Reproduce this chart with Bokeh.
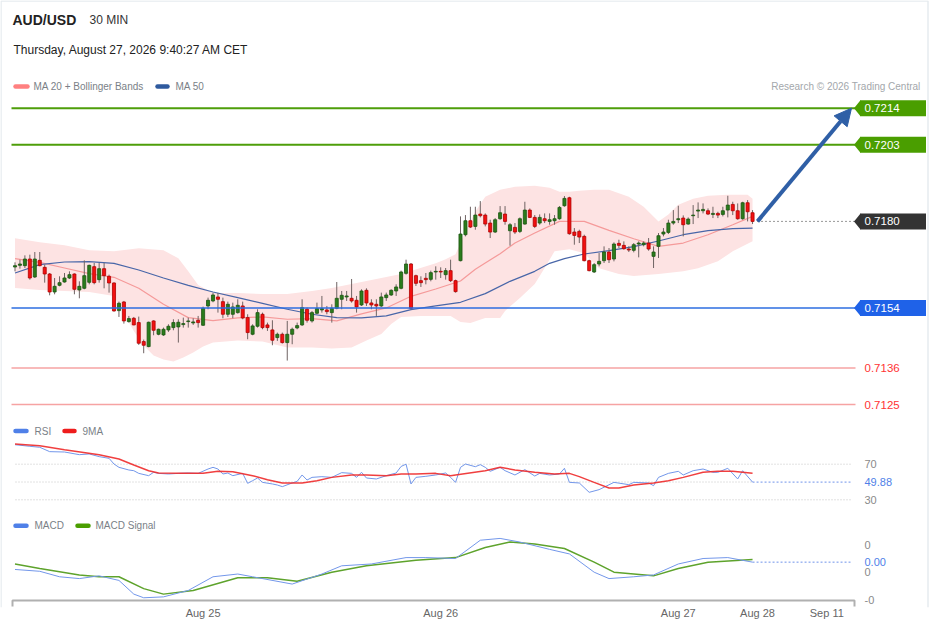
from bokeh.plotting import figure
from bokeh.models import Range1d, FixedTicker, Arrow, NormalHead
from bokeh.core.properties import value
from bokeh.embed import file_html
from bokeh.resources import INLINE

# ---------------- data ----------------
SYMBOL = "AUD/USD"
TIMEFRAME = "30 MIN"
TIMESTAMP = "Thursday, August 27, 2026 9:40:27 AM CET"
SOURCE = "Research \u00a9 2026 Trading Central"

OPEN = [
0.71663, 0.71668, 0.71667, 0.71687, 0.71633, 0.71683, 0.71662, 0.71642, 0.71588, 0.71608,
0.71618, 0.71630, 0.71642, 0.71594, 0.71599, 0.71617, 0.71664, 0.71625, 0.71658, 0.71635,
0.71615, 0.71532, 0.71558, 0.71499, 0.71509, 0.71496, 0.71439, 0.71424, 0.71501, 0.71461,
0.71459, 0.71474, 0.71481, 0.71483, 0.71490, 0.71499, 0.71495, 0.71503, 0.71488, 0.71546,
0.71561, 0.71573, 0.71559, 0.71521, 0.71521, 0.71526, 0.71546, 0.71511, 0.71461, 0.71485,
0.71521, 0.71489, 0.71474, 0.71451, 0.71461, 0.71436, 0.71461, 0.71480, 0.71489, 0.71536,
0.71501, 0.71524, 0.71534, 0.71534, 0.71526, 0.71539, 0.71566, 0.71573, 0.71569, 0.71563,
0.71549, 0.71593, 0.71555, 0.71551, 0.71546, 0.71571, 0.71579, 0.71591, 0.71599, 0.71644,
0.71672, 0.71637, 0.71622, 0.71629, 0.71626, 0.71648, 0.71650, 0.71640, 0.71652, 0.71622,
0.71682, 0.71760, 0.71802, 0.71785, 0.71822, 0.71819, 0.71795, 0.71768, 0.71808, 0.71822,
0.71772, 0.71782, 0.71770, 0.71792, 0.71834, 0.71812, 0.71795, 0.71808, 0.71800, 0.71802,
0.71808, 0.71847, 0.71871, 0.71768, 0.71770, 0.71755, 0.71682, 0.71648, 0.71672, 0.71682,
0.71708, 0.71687, 0.71734, 0.71728, 0.71717, 0.71713, 0.71732, 0.71730, 0.71735, 0.71695,
0.71725, 0.71762, 0.71767, 0.71795, 0.71805, 0.71810, 0.71792, 0.71817, 0.71831, 0.71832,
0.71832, 0.71821, 0.71824, 0.71821, 0.71834, 0.71851, 0.71832, 0.71808, 0.71856, 0.71826,
]
HIGH = [
0.71677, 0.71685, 0.71698, 0.71700, 0.71708, 0.71708, 0.71670, 0.71645, 0.71630, 0.71635,
0.71645, 0.71650, 0.71644, 0.71620, 0.71683, 0.71670, 0.71675, 0.71675, 0.71675, 0.71640,
0.71617, 0.71559, 0.71561, 0.71516, 0.71513, 0.71514, 0.71445, 0.71499, 0.71503, 0.71478,
0.71481, 0.71491, 0.71506, 0.71506, 0.71511, 0.71511, 0.71509, 0.71516, 0.71544, 0.71571,
0.71586, 0.71585, 0.71571, 0.71559, 0.71556, 0.71566, 0.71559, 0.71521, 0.71491, 0.71536,
0.71526, 0.71496, 0.71503, 0.71466, 0.71466, 0.71501, 0.71481, 0.71496, 0.71566, 0.71541,
0.71531, 0.71556, 0.71576, 0.71546, 0.71551, 0.71618, 0.71591, 0.71591, 0.71627, 0.71576,
0.71596, 0.71599, 0.71566, 0.71566, 0.71586, 0.71586, 0.71596, 0.71611, 0.71652, 0.71685,
0.71675, 0.71640, 0.71635, 0.71645, 0.71652, 0.71665, 0.71662, 0.71660, 0.71685, 0.71625,
0.71815, 0.71819, 0.71844, 0.71844, 0.71861, 0.71824, 0.71805, 0.71810, 0.71846, 0.71846,
0.71795, 0.71795, 0.71812, 0.71859, 0.71839, 0.71819, 0.71821, 0.71824, 0.71824, 0.71819,
0.71846, 0.71876, 0.71874, 0.71780, 0.71775, 0.71760, 0.71685, 0.71675, 0.71705, 0.71725,
0.71720, 0.71737, 0.71745, 0.71740, 0.71725, 0.71735, 0.71740, 0.71740, 0.71750, 0.71725,
0.71765, 0.71780, 0.71805, 0.71834, 0.71847, 0.71818, 0.71812, 0.71849, 0.71857, 0.71854,
0.71839, 0.71844, 0.71829, 0.71844, 0.71877, 0.71859, 0.71854, 0.71859, 0.71864, 0.71834,
]
LOW = [
0.71650, 0.71658, 0.71660, 0.71625, 0.71630, 0.71665, 0.71616, 0.71578, 0.71581, 0.71605,
0.71616, 0.71627, 0.71581, 0.71569, 0.71596, 0.71611, 0.71611, 0.71616, 0.71599, 0.71586,
0.71529, 0.71513, 0.71493, 0.71496, 0.71488, 0.71429, 0.71404, 0.71422, 0.71458, 0.71458,
0.71456, 0.71468, 0.71473, 0.71436, 0.71481, 0.71481, 0.71489, 0.71481, 0.71486, 0.71536,
0.71557, 0.71526, 0.71509, 0.71513, 0.71509, 0.71523, 0.71506, 0.71446, 0.71458, 0.71481,
0.71476, 0.71471, 0.71428, 0.71441, 0.71433, 0.71382, 0.71431, 0.71476, 0.71486, 0.71496,
0.71496, 0.71521, 0.71526, 0.71521, 0.71496, 0.71536, 0.71536, 0.71561, 0.71556, 0.71526,
0.71546, 0.71546, 0.71536, 0.71516, 0.71543, 0.71561, 0.71576, 0.71576, 0.71596, 0.71640,
0.71536, 0.71606, 0.71603, 0.71611, 0.71620, 0.71625, 0.71630, 0.71625, 0.71618, 0.71586,
0.71680, 0.71755, 0.71780, 0.71775, 0.71812, 0.71785, 0.71750, 0.71765, 0.71805, 0.71790,
0.71727, 0.71762, 0.71765, 0.71790, 0.71810, 0.71780, 0.71790, 0.71795, 0.71790, 0.71790,
0.71805, 0.71844, 0.71760, 0.71730, 0.71735, 0.71680, 0.71650, 0.71645, 0.71665, 0.71675,
0.71675, 0.71680, 0.71720, 0.71715, 0.71708, 0.71707, 0.71692, 0.71725, 0.71712, 0.71660,
0.71690, 0.71755, 0.71762, 0.71790, 0.71795, 0.71755, 0.71790, 0.71792, 0.71810, 0.71824,
0.71819, 0.71810, 0.71810, 0.71815, 0.71812, 0.71819, 0.71805, 0.71805, 0.71800, 0.71792,
]
CLOSE = [
0.71667, 0.71672, 0.71687, 0.71630, 0.71687, 0.71667, 0.71642, 0.71588, 0.71605, 0.71616,
0.71630, 0.71640, 0.71596, 0.71605, 0.71637, 0.71668, 0.71616, 0.71658, 0.71637, 0.71615,
0.71531, 0.71554, 0.71501, 0.71508, 0.71489, 0.71434, 0.71428, 0.71497, 0.71473, 0.71476,
0.71476, 0.71485, 0.71496, 0.71497, 0.71493, 0.71501, 0.71498, 0.71496, 0.71539, 0.71563,
0.71579, 0.71566, 0.71521, 0.71551, 0.71543, 0.71548, 0.71510, 0.71466, 0.71486, 0.71526,
0.71481, 0.71481, 0.71443, 0.71461, 0.71436, 0.71461, 0.71476, 0.71487, 0.71541, 0.71503,
0.71526, 0.71538, 0.71538, 0.71529, 0.71539, 0.71569, 0.71578, 0.71576, 0.71561, 0.71543,
0.71591, 0.71555, 0.71549, 0.71546, 0.71573, 0.71579, 0.71593, 0.71603, 0.71648, 0.71672,
0.71539, 0.71614, 0.71616, 0.71625, 0.71646, 0.71650, 0.71648, 0.71652, 0.71622, 0.71589,
0.71762, 0.71802, 0.71783, 0.71819, 0.71817, 0.71792, 0.71768, 0.71805, 0.71826, 0.71800,
0.71790, 0.71768, 0.71808, 0.71834, 0.71812, 0.71785, 0.71812, 0.71802, 0.71805, 0.71808,
0.71842, 0.71869, 0.71763, 0.71758, 0.71753, 0.71682, 0.71652, 0.71670, 0.71680, 0.71708,
0.71685, 0.71732, 0.71728, 0.71718, 0.71714, 0.71730, 0.71735, 0.71735, 0.71717, 0.71708,
0.71757, 0.71768, 0.71795, 0.71800, 0.71808, 0.71790, 0.71807, 0.71819, 0.71834, 0.71836,
0.71822, 0.71824, 0.71819, 0.71832, 0.71849, 0.71832, 0.71808, 0.71856, 0.71829, 0.71800,
]

MA20_IDX = [0, 5, 10, 15, 20, 25, 30, 35, 40, 45, 50, 55, 60, 65, 70, 75, 80, 85, 90, 93,
            95, 98, 101, 105, 110, 115, 120, 125, 130, 135, 140, 145, 149]
MA20 = [0.71688, 0.71677, 0.71660, 0.71643, 0.71632, 0.71599, 0.71551, 0.71511, 0.71502, 0.71510,
        0.71513, 0.71506, 0.71508, 0.71501, 0.71522, 0.71540, 0.71575, 0.71597, 0.71621, 0.71656,
        0.71675, 0.71703, 0.71735, 0.71765, 0.71800, 0.71800, 0.71773, 0.71748, 0.71725, 0.71735,
        0.71760, 0.71790, 0.71815]
MA50_IDX = [0, 5, 10, 15, 20, 25, 30, 35, 40, 45, 50, 55, 60, 65, 70, 75, 80, 85, 90, 95, 100,
            105, 108, 111, 115, 120, 125, 130, 135, 140, 145, 149]
MA50 = [0.71645, 0.71670, 0.71678, 0.71679, 0.71674, 0.71654, 0.71630, 0.71608, 0.71588, 0.71571,
        0.71554, 0.71536, 0.71521, 0.71511, 0.71510, 0.71516, 0.71535, 0.71546, 0.71557, 0.71583,
        0.71620, 0.71650, 0.71674, 0.71688, 0.71702, 0.71712, 0.71724, 0.71741, 0.71760, 0.71772,
        0.71778, 0.71780]
BB_UP_IDX = [0, 5, 10, 15, 20, 25, 30, 33, 35, 37, 40, 45, 50, 55, 60, 64, 71, 78, 85, 87, 89, 91,
             93, 95, 98, 101, 105, 108, 110, 112, 114, 117, 120, 124, 127, 130, 132, 134, 137, 140,
             144, 148, 149]
BB_UP = [0.71749, 0.71737, 0.71728, 0.71713, 0.71710, 0.71719, 0.71713, 0.71689, 0.71650, 0.71609,
         0.71585, 0.71585, 0.71582, 0.71582, 0.71591, 0.71600, 0.71621, 0.71642, 0.71674, 0.71686,
         0.71701, 0.71770, 0.71830, 0.71874, 0.71895, 0.71904, 0.71907, 0.71901, 0.71889, 0.71889,
         0.71892, 0.71895, 0.71895, 0.71874, 0.71844, 0.71800, 0.71821, 0.71850, 0.71868, 0.71877,
         0.71880, 0.71880, 0.71868]
BB_LO_IDX = [0, 5, 10, 15, 20, 22, 24, 26, 28, 30, 32, 34, 36, 38, 40, 45, 50, 55, 60, 64, 68, 71,
             74, 76, 78, 82, 86, 88, 90, 92, 95, 98, 99, 102, 105, 107, 109, 112, 115, 118, 122,
             125, 130, 135, 138, 142, 145, 149]
BB_LO = [0.71600, 0.71594, 0.71591, 0.71588, 0.71576, 0.71522, 0.71471, 0.71427, 0.71397, 0.71385,
         0.71379, 0.71391, 0.71406, 0.71424, 0.71436, 0.71442, 0.71439, 0.71421, 0.71421, 0.71418,
         0.71421, 0.71442, 0.71462, 0.71492, 0.71513, 0.71516, 0.71516, 0.71516, 0.71498, 0.71495,
         0.71510, 0.71510, 0.71531, 0.71570, 0.71612, 0.71660, 0.71710, 0.71716, 0.71704, 0.71659,
         0.71642, 0.71636, 0.71642, 0.71650, 0.71659, 0.71680, 0.71710, 0.71740]

RESISTANCE = [0.7214, 0.7203]
PIVOT = 0.7154
SUPPORT = [0.7136, 0.7125]

RSI_IDX = [0, 3, 5, 7, 10, 13, 15, 17, 19, 20, 21, 23, 24, 25, 27, 28, 29, 31, 33, 35,
           37, 39, 40, 41, 42, 43, 44, 46, 47, 48, 49, 50, 52, 53, 54, 56, 57, 58, 59, 60,
           62, 64, 66, 68, 69, 70, 71, 73, 75, 77, 78, 79, 80, 81, 83, 85, 87, 88, 89, 90,
           91, 93, 94, 95, 96, 98, 99, 101, 103, 105, 106, 108, 110, 111, 112, 114, 116, 118, 121, 124,
           125, 128, 129, 130, 132, 134, 135, 137, 139, 141, 142, 144, 146, 147, 149]
RSI = [91.9, 90.1, 89.0, 84.1, 83.7, 80.7, 81.5, 78.5, 76.6, 70.2,
       66.5, 63.5, 62.7, 59.7, 57.1, 60.9, 59.7, 59.0, 59.7, 60.1,
       59.7, 64.6, 66.5, 64.6, 59.0, 60.1, 57.1, 59.7, 48.5, 51.5,
       54.5, 49.6, 47.8, 46.6, 44.8, 48.9, 50.7, 57.9, 52.2, 55.2,
       56.0, 55.2, 60.5, 59.7, 55.2, 60.9, 54.5, 53.4, 57.1, 60.1,
       67.5, 70.0, 47.8, 55.2, 56.4, 57.9, 60.1, 55.2, 49.6, 66.5,
       70.2, 67.2, 69.5, 66.5, 62.0, 66.5, 62.7, 57.9, 63.9, 56.7,
       59.7, 57.9, 59.0, 65.4, 49.6, 48.9, 38.4, 41.4, 49.6, 47.0,
       49.6, 48.9, 45.9, 55.2, 59.7, 62.0, 57.9, 62.7, 64.6, 60.9,
       60.9, 65.4, 53.4, 62.7, 49.88]
RSI_MA_IDX = [0, 5, 10, 17, 21, 24, 27, 29, 34, 38, 41, 44, 48, 51, 54, 58, 61, 64, 68, 71,
              75, 78, 81, 85, 88, 89, 95, 98, 101, 105, 109, 112, 114, 117, 120, 122, 125, 129, 132, 135,
              139, 142, 145, 149]
RSI_MA = [92.7, 90.8, 86.3, 80.7, 75.8, 69.1, 62.7, 60.1, 59.7, 59.7,
          62.0, 61.6, 57.1, 52.6, 48.9, 48.9, 51.5, 55.2, 57.9, 57.9,
          57.1, 59.0, 59.0, 59.7, 57.1, 57.9, 62.7, 66.5, 63.5, 60.9,
          59.0, 59.7, 56.0, 49.6, 43.3, 43.3, 46.6, 48.9, 51.5, 55.2,
          60.9, 62.0, 62.0, 59.7]
RSI_TICKS = [70, 30]

MACD_IDX = [0, 5, 9, 13, 17, 21, 24, 26, 30, 35, 40, 45, 48, 56, 62, 66, 72, 79, 83, 89,
            94, 98, 102, 108, 112, 117, 120, 125, 129, 134, 139, 144, 149]
MACD = [0.00003, 0.00001, -0.00005, -0.00007, -0.00004, -0.00009, -0.00024, -0.00028, -0.00027, -0.00020,
        -0.00005, -0.00002, -0.00005, -0.00013, -0.00002, 0.00007, 0.00009, 0.00016, 0.00016, 0.00015,
        0.00035, 0.00037, 0.00033, 0.00025, 0.00020, 0.00000, -0.00007, -0.00005, -0.00003, 0.00009,
        0.00015, 0.00016, 0.00011]
SIG_IDX = [0, 5, 13, 17, 21, 26, 30, 36, 45, 51, 57, 64, 71, 81, 89, 95, 100, 105, 111, 117,
           121, 129, 134, 140, 149]
SIG = [0.00009, 0.00004, -0.00003, -0.00005, -0.00005, -0.00018, -0.00024, -0.00020, -0.00006, -0.00006,
       -0.00010, 0.00000, 0.00007, 0.00013, 0.00016, 0.00027, 0.00033, 0.00031, 0.00026, 0.00011,
       0.00000, -0.00004, 0.00004, 0.00011, 0.00014]
MACD_TICKS = [0.0003, 0.0, -0.0003]

TICK_POS = [38, 86, 134, 150, 164]
TICK_LABELS = ["Aug 25", "Aug 26", "Aug 27", "Aug 28", "Sep 11"]

# ---------------- layout helpers (reference pixel -> data units) ----------------
FONT = value("Liberation Sans")
X0, DX = 14.5, 4.95
W, H = 929, 629
FT, FB, FL, FR = 0.0, 607.0, 0.0, float(W)


def ix(px):
    return (px - X0) / DX


def mapper(va, pa, vb, pb):
    k = (vb - va) / (pb - pa)
    return lambda px: va + k * (px - pa)


pv = mapper(0.7214, 107.7, 0.7125, 404.0)
rv = mapper(70, 463.7, 30, 499.3)
mv = mapper(0.0003, 544.3, 0.0, 571.7)

p = figure(width=W, height=H, output_backend="svg", toolbar_location=None,
           x_range=Range1d(ix(FL), ix(FR)), y_range=Range1d(pv(FB), pv(FT)),
           y_axis_location=None, min_border_left=0, min_border_right=0,
           min_border_top=0, min_border_bottom=int(H - FB), outline_line_color=None,
           background_fill_color="white", border_fill_color="white")
p.extra_y_ranges = {"rsi": Range1d(rv(FB), rv(FT)), "macd": Range1d(mv(FB), mv(FT))}
p.xgrid.visible = False
p.ygrid.visible = False
ax = p.xaxis[0]
ax.ticker = FixedTicker(ticks=TICK_POS)
ax.major_label_overrides = {t: l for t, l in zip(TICK_POS, TICK_LABELS)}
ax.axis_line_color = None
ax.major_tick_line_color = None
ax.minor_tick_line_color = None
ax.major_tick_out = 0
ax.major_tick_in = 0
ax.major_label_standoff = -1
ax.major_label_text_font = "Liberation Sans"
ax.major_label_text_font_size = "11px"
ax.major_label_text_color = "#666666"


def add_text(x, y, s, size, color, rng="default", style="normal", align="left"):
    p.text(x=[x], y=[y], text=[s], y_range_name=rng, text_font=FONT,
           text_font_size=size, text_color=color, text_align=align,
           text_baseline="middle", text_font_style=style)


def swatch(x0, x1, y, color, rng="default"):
    p.segment(x0=[ix(x0)], x1=[ix(x1)], y0=[y], y1=[y], y_range_name=rng,
              line_color=color, line_width=4.5, line_cap="round")


# ---------------- frame border ----------------
p.line(x=[ix(0.5), ix(W - 1.5), ix(W - 1.5)], y=[pv(0.5)] * 2 + [pv(FB)],
       line_color="#e6ebef", line_width=1.5)
p.line(x=[ix(0.5), ix(0.5)], y=[pv(0.5), pv(FB)], line_color="#e6ebef", line_width=1.5)

# ---------------- header ----------------
add_text(ix(12), pv(19), SYMBOL, "14px", "#222222", style="bold")
add_text(ix(89), pv(19), TIMEFRAME, "12px", "#333333")
add_text(ix(13), pv(49), TIMESTAMP, "12px", "#222222")
swatch(15, 27, pv(86), "#ff8080")
add_text(ix(33), pv(86), "MA 20 + Bollinger Bands", "10px", "#7a7f87")
swatch(157, 167, pv(86), "#2f5a9e")
add_text(ix(175), pv(86), "MA 50", "10px", "#7a7f87")
add_text(ix(920), pv(86), SOURCE, "10px", "#a3a7ab", align="right")

# ---------------- price panel ----------------
p.patch(x=BB_UP_IDX + BB_LO_IDX[::-1], y=BB_UP + BB_LO[::-1],
        fill_color="#fde3e3", line_color=None)
p.line(MA20_IDX, MA20, line_color="#f59a9a", line_width=1.2)
p.line(MA50_IDX, MA50, line_color="#4866a8", line_width=1.2)

idx = list(range(len(CLOSE)))
up = [c >= o for o, c in zip(OPEN, CLOSE)]
p.segment(x0=idx, x1=idx, y0=LOW, y1=HIGH, line_color="#6f6363", line_width=1)
p.vbar(x=idx, width=0.62,
       top=[max(o, c) for o, c in zip(OPEN, CLOSE)],
       bottom=[min(o, c) for o, c in zip(OPEN, CLOSE)],
       fill_color=["#2b7c1c" if u else "#f21010" for u in up],
       line_color=["#1c5512" if u else "#b00000" for u in up], line_width=0.8)

x_left, x_right = ix(11), ix(855)
p.segment(x0=[x_left] * 2, x1=[x_right] * 2, y0=RESISTANCE, y1=RESISTANCE,
          line_color="#4e9e0a", line_width=2)
p.segment(x0=[x_left], x1=[x_right], y0=[PIVOT], y1=[PIVOT],
          line_color="#2d6ee0", line_width=1.5)
p.segment(x0=[x_left] * 2, x1=[x_right] * 2, y0=SUPPORT, y1=SUPPORT,
          line_color="#f6a3a3", line_width=1.5)
last = CLOSE[-1]
p.segment(x0=[ix(757)], x1=[ix(854)], y0=[last], y1=[last],
          line_color="#333333", line_width=1, line_dash="1 3")

half = pv(0) - pv(8)


def tag(level, fill):
    p.quad(left=[ix(859.5)], right=[ix(925.5)], top=[level + half], bottom=[level - half],
           fill_color=fill, line_color=None)
    p.patch(x=[ix(853.5), ix(860), ix(860)], y=[level, level + half, level - half],
            fill_color=fill, line_color=None)
    add_text(ix(864), level, f"{level:.4f}", "11.5px", "white")


for lv in RESISTANCE:
    tag(lv, "#4a9e00")
tag(last, "#333333")
tag(PIVOT, "#1f62e8")
for lv in SUPPORT:
    add_text(ix(864), lv, f"{lv:.4f}", "11.5px", "#ff3333")

ARROW_C = "#2f5fa6"
p.add_layout(Arrow(end=NormalHead(size=17, fill_color=ARROW_C, line_color=ARROW_C),
                   x_start=len(CLOSE), y_start=last, x_end=ix(851), y_end=RESISTANCE[0],
                   line_color=ARROW_C, line_width=4))

# ---------------- RSI panel ----------------
swatch(15, 26, rv(430.5), "#4f80e8", "rsi")
add_text(ix(34), rv(430.5), "RSI", "10px", "#7a7f87", "rsi")
swatch(64, 74, rv(430.5), "#ee1c1c", "rsi")
add_text(ix(82), rv(430.5), "9MA", "10px", "#7a7f87", "rsi")
for lv in RSI_TICKS:
    p.segment(x0=[ix(15)], x1=[ix(850)], y0=[lv], y1=[lv], y_range_name="rsi",
              line_color="#c4c4c4", line_width=1, line_dash="1 2")
    add_text(ix(864), lv, f"{lv}", "11px", "#8a8a8a", "rsi")
p.segment(x0=[ix(15)], x1=[RSI_IDX[-1]], y0=[50], y1=[50], y_range_name="rsi",
          line_color="#c4c4c4", line_width=1, line_dash="1 2")
p.segment(x0=[RSI_IDX[-1]], x1=[ix(850)], y0=[RSI[-1]], y1=[RSI[-1]], y_range_name="rsi",
          line_color="#6f93ea", line_width=1, line_dash="2 2")
add_text(ix(864), RSI[-1], f"{RSI[-1]:.2f}", "11px", "#4f7fe8", "rsi")
p.line(RSI_IDX, RSI, y_range_name="rsi", line_color="#7397ea", line_width=1)
p.line(RSI_MA_IDX, RSI_MA, y_range_name="rsi", line_color="#ee2a2a", line_width=1.5,
       line_alpha=0.9)

# ---------------- MACD panel ----------------
swatch(15, 26, mv(525.3), "#4f80e8", "macd")
add_text(ix(34), mv(525.3), "MACD", "10px", "#7a7f87", "macd")
swatch(77, 88, mv(525.3), "#4a9e00", "macd")
add_text(ix(95), mv(525.3), "MACD Signal", "10px", "#7a7f87", "macd")
for lv in MACD_TICKS:
    add_text(ix(864), lv, f"{lv:.0f}", "11px", "#8a8a8a", "macd")
p.segment(x0=[MACD_IDX[-1]], x1=[ix(850)], y0=[MACD[-1]], y1=[MACD[-1]], y_range_name="macd",
          line_color="#6f93ea", line_width=1, line_dash="2 2")
add_text(ix(864), MACD[-1], f"{MACD[-1]:.2f}", "11px", "#4f7fe8", "macd")
p.line(SIG_IDX, SIG, y_range_name="macd", line_color="#5ea32c", line_width=1.5)
p.line(MACD_IDX, MACD, y_range_name="macd", line_color="#7397ea", line_width=1)

# x-axis baseline with end ticks
p.line(x=[ix(12), ix(12), ix(854), ix(854)], y=[mv(606), mv(600), mv(600), mv(606)],
       y_range_name="macd", line_color="#b0b0b0", line_width=2)

open("out.html", "w").write(file_html(p, INLINE))
